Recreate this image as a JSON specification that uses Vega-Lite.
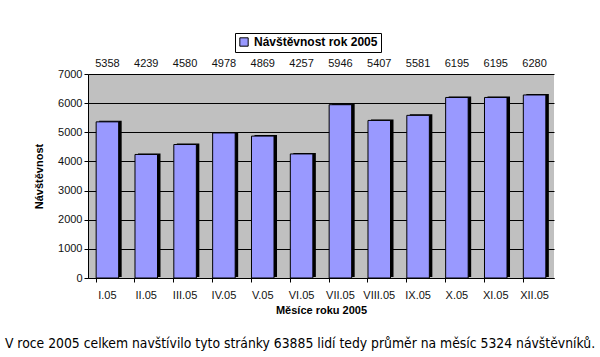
{
  "$schema": "https://vega.github.io/schema/vega-lite/v6.json",
  "width": 466,
  "height": 204,
  "autosize": {"type": "none"},
  "padding": {"left": 88, "top": 74, "right": 46, "bottom": 79},
  "background": "white",
  "data": {"values": [
    {"mesic": "I.05", "navstevnost": 5358, "rada": "Návštěvnost rok 2005"},
    {"mesic": "II.05", "navstevnost": 4239, "rada": "Návštěvnost rok 2005"},
    {"mesic": "III.05", "navstevnost": 4580, "rada": "Návštěvnost rok 2005"},
    {"mesic": "IV.05", "navstevnost": 4978, "rada": "Návštěvnost rok 2005"},
    {"mesic": "V.05", "navstevnost": 4869, "rada": "Návštěvnost rok 2005"},
    {"mesic": "VI.05", "navstevnost": 4257, "rada": "Návštěvnost rok 2005"},
    {"mesic": "VII.05", "navstevnost": 5946, "rada": "Návštěvnost rok 2005"},
    {"mesic": "VIII.05", "navstevnost": 5407, "rada": "Návštěvnost rok 2005"},
    {"mesic": "IX.05", "navstevnost": 5581, "rada": "Návštěvnost rok 2005"},
    {"mesic": "X.05", "navstevnost": 6195, "rada": "Návštěvnost rok 2005"},
    {"mesic": "XI.05", "navstevnost": 6195, "rada": "Návštěvnost rok 2005"},
    {"mesic": "XII.05", "navstevnost": 6280, "rada": "Návštěvnost rok 2005"}
  ]},
  "title": {
    "text": "V roce 2005 celkem navštívilo tyto stránky 63885 lidí tedy průměr na měsíc 5324 návštěvníků.",
    "orient": "bottom",
    "anchor": "middle",
    "dx": -21,
    "font": "DejaVu Sans Condensed, Liberation Sans",
    "fontSize": 13.8,
    "fontWeight": "normal",
    "color": "black",
    "offset": 22
  },
  "encoding": {
    "x": {
      "field": "mesic",
      "type": "nominal",
      "sort": null,
      "scale": {"paddingInner": 0.42, "paddingOuter": 0.21},
      "axis": {
        "title": "Měsíce roku 2005",
        "labelAngle": 0,
        "bandPosition": 0,
        "labelPadding": 7,
        "titlePadding": 4
      }
    },
    "y": {
      "field": "navstevnost",
      "type": "quantitative",
      "scale": {"domain": [0, 7000]},
      "axis": {
        "title": "Návštěvnost",
        "values": [0, 1000, 2000, 3000, 4000, 5000, 6000, 7000],
        "format": "d",
        "grid": true,
        "titlePadding": 13
      }
    }
  },
  "layer": [
    {
      "mark": {"type": "bar", "color": "black", "xOffset": 3, "yOffset": -1},
      "encoding": {}
    },
    {
      "mark": {"type": "bar", "stroke": "black", "strokeWidth": 1},
      "encoding": {
        "color": {
          "field": "rada",
          "type": "nominal",
          "scale": {"range": ["#9999ff"]},
          "legend": {
            "title": null,
            "orient": "none",
            "legendX": 147,
            "legendY": -41,
            "strokeColor": "black",
            "fillColor": "white",
            "padding": 3,
            "labelFont": "Liberation Sans",
            "labelFontSize": 12,
            "labelFontWeight": "bold",
            "labelColor": "black",
            "symbolType": "square",
            "symbolSize": 70,
            "symbolStrokeColor": "black",
            "symbolStrokeWidth": 1,
            "symbolOpacity": 1
          }
        }
      }
    },
    {
      "mark": {"type": "text", "clip": false, "font": "Liberation Sans", "fontSize": 11, "color": "#111", "baseline": "middle"},
      "encoding": {
        "y": {"datum": 7330},
        "text": {"field": "navstevnost", "type": "quantitative", "format": "d"}
      }
    }
  ],
  "config": {
    "view": {"fill": "#c0c0c0", "stroke": null},
    "font": "Liberation Sans",
    "axis": {
      "domainColor": "black",
      "tickColor": "black",
      "gridColor": "black",
      "gridOpacity": 1,
      "gridWidth": 1,
      "tickSize": 4,
      "labelFont": "Liberation Sans",
      "labelFontSize": 11,
      "labelColor": "#111",
      "titleFont": "Liberation Sans",
      "titleFontSize": 11,
      "titleFontWeight": "bold",
      "titleColor": "black"
    }
  }
}
